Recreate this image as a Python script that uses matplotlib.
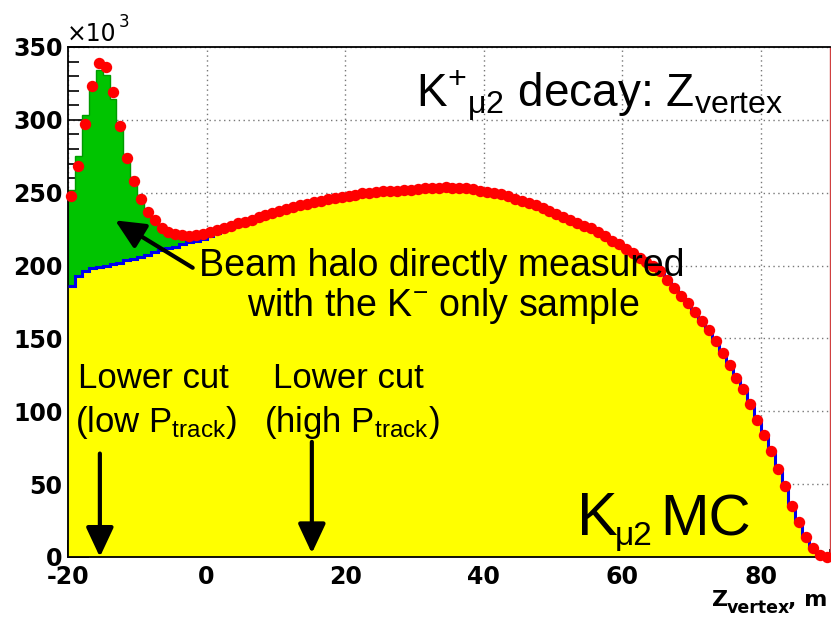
import numpy as np
import matplotlib
matplotlib.use("Agg")
import matplotlib.pyplot as plt
from matplotlib.ticker import MultipleLocator

plt.rcParams['axes.unicode_minus'] = False
plt.rcParams['mathtext.fontset'] = 'custom'
plt.rcParams['mathtext.rm'] = 'Liberation Sans'
plt.rcParams['mathtext.it'] = 'Liberation Sans:italic'
plt.rcParams['mathtext.bf'] = 'Liberation Sans:bold'
plt.rcParams['mathtext.default'] = 'regular'

# Z_vertex histogram, 1 m bins from -20 to 90 m, counts in thousands
z_lo, z_hi = -20, 90

# data (red points)
data = [248, 268.5, 297, 323.5, 339, 336, 319, 296, 274, 258,
        246, 236.5, 231, 225.5, 223, 221.5, 221, 220.5, 221, 222,
        223, 224.5, 226, 227.5, 229, 230, 231.5, 233, 234.5, 236,
        237.5, 239, 240.5, 241.5, 242.5, 243.5, 244.5, 245.5, 246.5, 247,
        248, 248.5, 249.5, 250, 250.5, 251, 251, 251.5, 252, 252,
        252.5, 253, 253.5, 253.5, 254, 253.5, 253.5, 253, 252.5, 251.5,
        250.5, 250, 249, 247.5, 246, 244.5, 243, 241.5, 239.5, 237.5,
        235.5, 233.5, 231.5, 229.5, 227.5, 225.5, 223, 220, 217, 214.5,
        211.5, 208.5, 205.5, 202.5, 199.5, 196, 190, 184.5, 179, 174,
        168, 162, 155.5, 148, 140, 132, 123, 115, 105, 94,
        83.5, 72.5, 60.5, 48.5, 35, 24, 14, 6, 1.5, 0.3]

# K_mu2 MC (yellow) in the first 22 bins, where the beam halo sits on top
mc_low = [186, 193, 196.5, 198, 199, 200, 201, 202, 203.5, 204.5,
          206, 207.5, 209, 210.5, 212, 213, 214.5, 216, 217, 218.5,
          220, 222.5]
# MC + beam halo (green top) in the same bins
halo_total = [252, 275, 303, 321, 334, 330.5, 314, 297, 276.5, 261,
              248.5, 238, 231, 226, 223, 221.5, 220.5, 220, 220, 220.5,
              221, 223]

edges = np.arange(z_lo, z_hi + 1, 1.0)
centers = edges[:-1] + 0.5
n_low = len(mc_low)
mc = np.array(mc_low + data[n_low:])

W, H = 831, 620
fig = plt.figure(figsize=(W / 100, H / 100), dpi=100)


def fx(px):
    return px / W


def fy(py):
    return 1 - py / H


ax = fig.add_axes([fx(68), fy(557), (830 - 68) / W, (557 - 47) / H])

ax.set_axisbelow(True)
ax.grid(True, which='major', color='#777777', linestyle=(0, (1, 2.5)), linewidth=1.0)

ax.stairs(halo_total, edges[:n_low + 1], baseline=0, fill=True,
          facecolor='#00c400', edgecolor='#009a00', linewidth=1, zorder=1)
ax.stairs(mc, edges, baseline=0, fill=True, facecolor='#ffff00',
          edgecolor='none', zorder=2)
ax.stairs(mc, edges, baseline=None, color='#0000ee', linewidth=2.2, zorder=3)
ax.plot(centers, data, 'o', color='#ff0000', markersize=8.2, markeredgewidth=0,
        zorder=4, clip_on=False)

ax.set_xlim(z_lo, z_hi)
ax.set_ylim(0, 350)
ax.xaxis.set_major_locator(MultipleLocator(20))
ax.xaxis.set_minor_locator(MultipleLocator(5))
ax.yaxis.set_major_locator(MultipleLocator(50))
ax.yaxis.set_minor_locator(MultipleLocator(10))
ax.tick_params(axis='both', which='both', direction='in', width=1.2,
               colors='black', top=False, right=False)
ax.tick_params(axis='y', which='major', length=15, pad=4)
ax.tick_params(axis='y', which='minor', length=8)
ax.tick_params(axis='x', which='major', length=12, pad=6)
ax.tick_params(axis='x', which='minor', length=6)
for lab in ax.get_xticklabels() + ax.get_yticklabels():
    lab.set_fontfamily('DejaVu Sans')
    lab.set_fontweight('bold')
    lab.set_fontsize(17)

for side in ['left', 'top', 'bottom']:
    ax.spines[side].set_linewidth(1.3)
    ax.spines[side].set_color('black')
ax.spines['right'].set_linewidth(1.0)
ax.spines['right'].set_color('#d04040')

# ROOT style exponent and axis title
fig.text(fx(67), fy(41), '×10', fontsize=17, family='DejaVu Sans', va='baseline', ha='left')
fig.text(fx(119), fy(27), '3', fontsize=12, family='DejaVu Sans', va='baseline', ha='left')
fig.text(fx(712), fy(606), 'Z', fontsize=16, family='DejaVu Sans', weight='bold', va='baseline')
fig.text(fx(727), fy(613), 'vertex', fontsize=12.5, family='DejaVu Sans', weight='bold', va='baseline')
fig.text(fx(788), fy(606), ', m', fontsize=16, family='DejaVu Sans', weight='bold', va='baseline')

txt = dict(family='Liberation Sans', color='black', va='baseline', ha='left', zorder=6)
fig.text(fx(416), fy(108), r'K$^{+}$$_{μ2}$ decay: Z$_{vertex}$', fontsize=33, **txt)
fig.text(fx(199), fy(276), 'Beam halo directly measured', fontsize=27, **txt)
fig.text(fx(247), fy(316), r'with the K$^{-}$ only sample', fontsize=27, **txt)
fig.text(fx(78), fy(388), 'Lower cut', fontsize=25, **txt)
fig.text(fx(75), fy(432), r'(low P$_{track}$)', fontsize=25, **txt)
fig.text(fx(273), fy(388), 'Lower cut', fontsize=25, **txt)
fig.text(fx(264), fy(432), r'(high P$_{track}$)', fontsize=25, **txt)
fig.text(fx(577), fy(535), 'K', fontsize=44, **txt)
fig.text(fx(615), fy(545), 'μ2', fontsize=24, **txt)
fig.text(fx(660), fy(535), 'MC', fontsize=42, **txt)

arrow = dict(arrowstyle='-|>,head_length=0.9,head_width=0.42', color='black',
             linewidth=3, mutation_scale=20, shrinkA=0, shrinkB=0)
ax.annotate('', xy=(-15.4, 0), xytext=(-15.4, 71), arrowprops=arrow,
            annotation_clip=False, zorder=6)
ax.annotate('', xy=(15.2, 2.5), xytext=(15.2, 79), arrowprops=arrow,
            annotation_clip=False, zorder=6)
ax.annotate('', xy=(-13.2, 231), xytext=(-2.0, 198.5), arrowprops=arrow,
            annotation_clip=False, zorder=6)

fig.savefig('out.png', dpi=100)
